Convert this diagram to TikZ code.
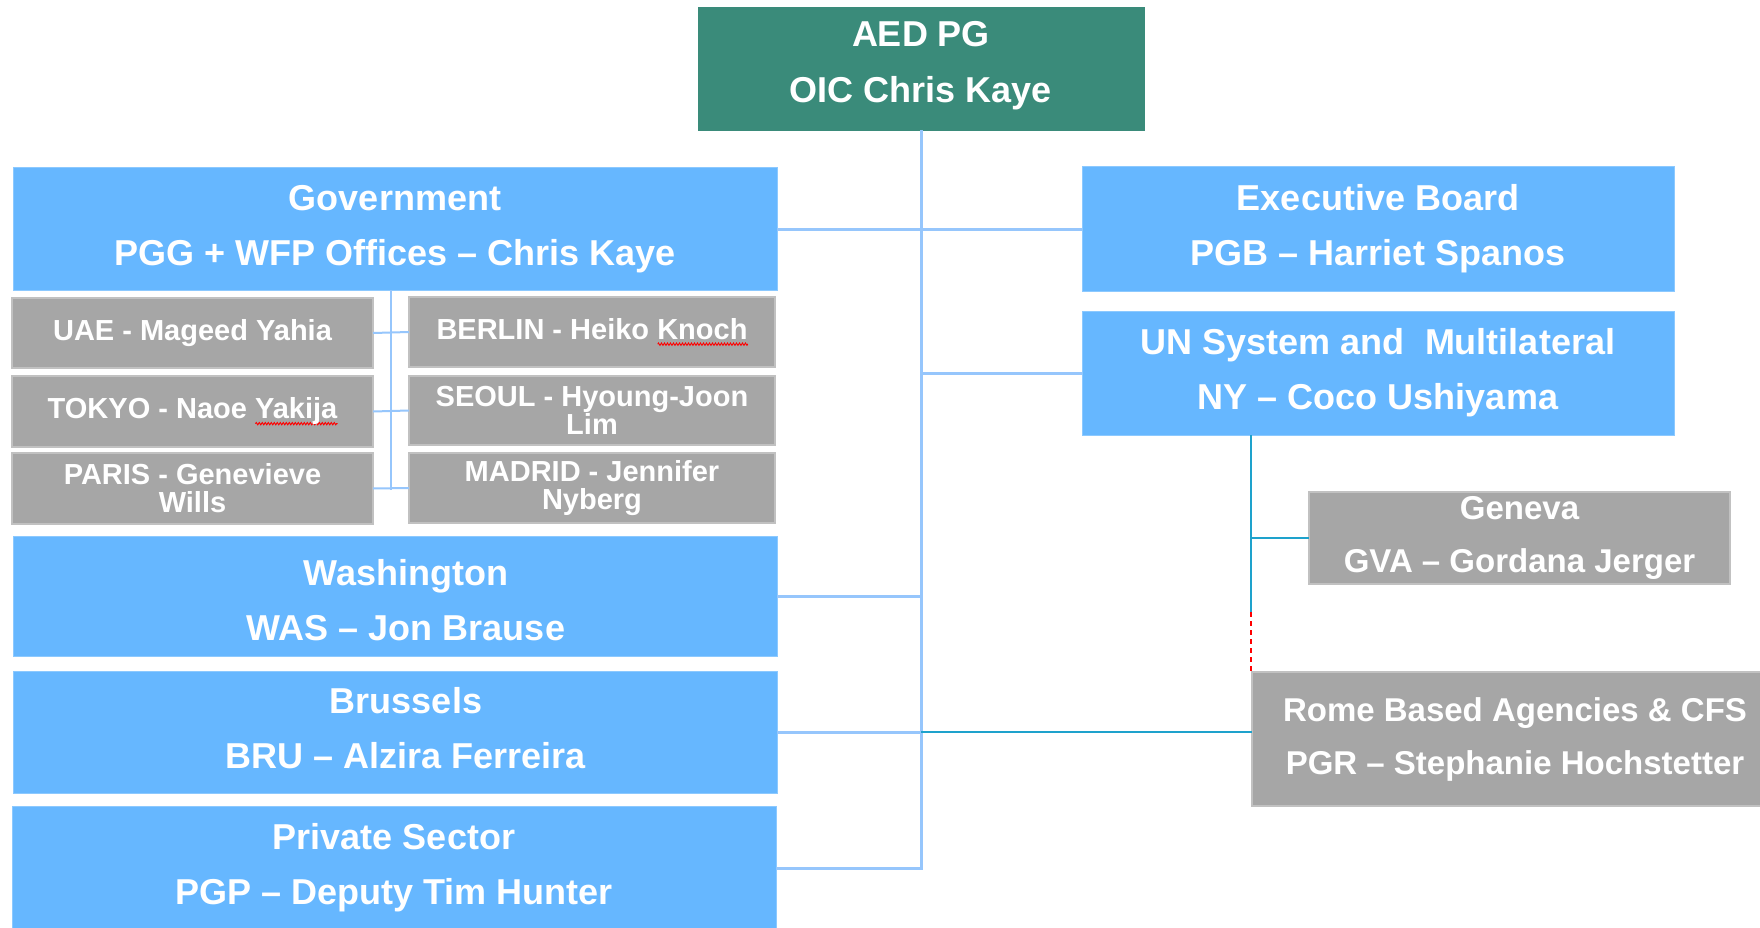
\documentclass[tikz,border=0pt]{standalone}
\usepackage{fontspec}
\setmainfont{Liberation Sans}
\usetikzlibrary{decorations.pathmorphing}
\newsavebox\spellbox
\newcommand\spellwave[1]{\sbox\spellbox{#1}\rlap{\tikz[baseline=0pt,x=1pt,y=1pt]\draw[red,line width=0.9pt,decorate,decoration={zigzag,amplitude=1.2pt,segment length=3pt}] (0,-5) -- (\the\wd\spellbox,-5);}\usebox\spellbox}
\definecolor{aedgreen}{RGB}{58,139,122}
\definecolor{unitblue}{RGB}{102,183,255}
\definecolor{officegray}{RGB}{166,166,166}
\definecolor{linkblue}{RGB}{150,198,252}
\definecolor{linkteal}{RGB}{30,162,204}
\begin{document}
\begin{tikzpicture}[x=1pt,y=-1pt,
    box/.style={anchor=north west,inner sep=0pt,outer sep=0pt,text=white,align=center},
    headbox/.style={box,fill=aedgreen,draw=aedgreen,font=\bfseries\fontsize{36}{56}\selectfont},
    bluebox/.style={box,fill=unitblue,draw=unitblue!75!white,line width=1pt,font=\bfseries\fontsize{36}{55}\selectfont},
    graybox/.style={box,fill=officegray,draw=officegray!70!white,line width=1.5pt,font=\bfseries\fontsize{29}{28}\selectfont},
    sidebox/.style={box,fill=officegray,draw=officegray!70!white,line width=1.5pt,font=\bfseries\fontsize{33}{53}\selectfont},
    mainlink/.style={linkblue,line width=3pt},
    officelink/.style={linkblue,line width=2pt},
    sublink/.style={linkteal,line width=2.5pt}]
  \path[use as bounding box,fill=white] (0,0) rectangle (1760,928);
  \node[headbox,minimum width=446,minimum height=123,text depth=14pt] (aed) at (698,7) {AED PG\\OIC Chris Kaye};
  \node[bluebox,minimum width=764,minimum height=122] (gov) at (13,168) {Government\\PGG + WFP Offices – Chris Kaye};
  \node[graybox,minimum width=361,minimum height=70] (uae) at (12,298) {UAE - Mageed Yahia};
  \node[graybox,minimum width=361,minimum height=71] (tokyo) at (12,376) {TOKYO - Naoe \spellwave{Yakija}};
  \node[graybox,minimum width=361,minimum height=71] (paris) at (12,453) {PARIS - Genevieve\\Wills};
  \node[graybox,minimum width=366,minimum height=70] (berlin) at (409,297) {BERLIN - Heiko \spellwave{Knoch}};
  \node[graybox,minimum width=366,minimum height=69] (seoul) at (409,376) {SEOUL - Hyoung-Joon\\Lim};
  \node[graybox,minimum width=366,minimum height=70] (madrid) at (409,453) {MADRID - Jennifer\\Nyberg};
  \node[bluebox,minimum width=764,minimum height=120,text height=90pt] (was) at (13,536) {\hspace*{22pt}Washington\\\hspace*{22pt}WAS – Jon Brause};
  \node[bluebox,minimum width=764,minimum height=122,text depth=8pt] (bru) at (13,671) {\hspace*{22pt}Brussels\\\hspace*{22pt}BRU – Alzira Ferreira};
  \node[bluebox,minimum width=764,minimum height=124] (psec) at (12,806) {Private Sector\\PGP – Deputy Tim Hunter};
  \node[bluebox,minimum width=592,minimum height=124] (exec) at (1082,167) {Executive Board\\PGB – Harriet Spanos};
  \node[bluebox,minimum width=592,minimum height=124] (un) at (1082,311) {UN System and\ \ Multilateral\\NY – Coco Ushiyama};
  \node[sidebox,minimum width=421,minimum height=92] (gva) at (1309,492) {Geneva\\GVA – Gordana Jerger};
  \node[sidebox,minimum width=526,minimum height=134] (rome) at (1252,672) {Rome Based Agencies \& CFS\\PGR – Stephanie Hochstetter};
  \draw[mainlink] (aed.south) |- (psec.east);
  \draw[mainlink] (gov.east) -- (exec.west);
  \draw[mainlink] (un.west) -- (un.west -| aed.south);
  \draw[mainlink] (was.east) -- (was.east -| aed.south);
  \draw[mainlink] (bru.east) -- (bru.east -| aed.south);
  \draw[sublink] (bru.east -| aed.south) -- (bru.east -| rome.west);
  \coordinate (govbus) at (391,490);
  \draw[officelink] (gov.south -| govbus) -- (govbus);
  \draw[officelink] (uae.east) -- (berlin.west);
  \draw[officelink] (tokyo.east) -- (seoul.west);
  \draw[officelink] (paris.east) -- (madrid.west);
  \coordinate (unsplit) at (1251,612);
  \draw[sublink] (un.south -| unsplit) -- (unsplit);
  \draw[sublink] (gva.west -| unsplit) -- (gva.west);
  \draw[red,line width=2pt,dash pattern=on 5pt off 4pt] (unsplit) -- (unsplit |- rome.north);
\end{tikzpicture}
\end{document}
